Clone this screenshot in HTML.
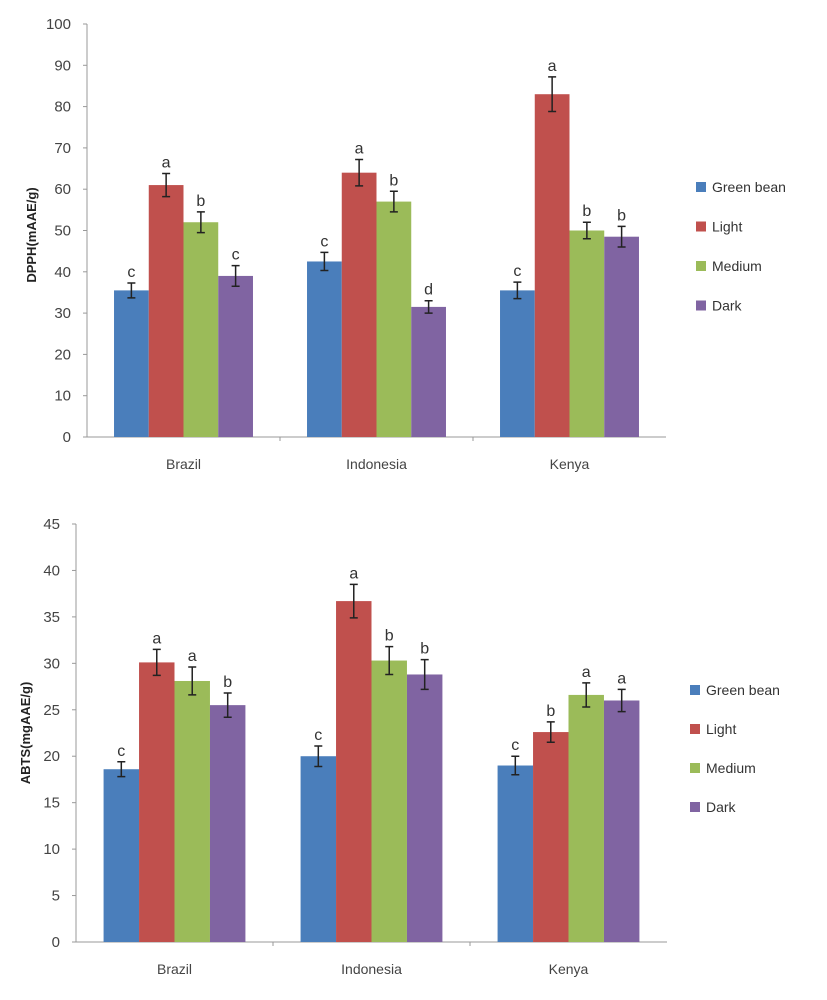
<!DOCTYPE html>
<html><head><meta charset="utf-8"><style>
body{margin:0;background:#fff;}
svg{display:block;font-family:"Liberation Sans",sans-serif;}
</style></head><body>
<svg width="827" height="1000" id="fig"></svg>
<script>
const categories=["Brazil","Indonesia","Kenya"];
const seriesNames=["Green bean","Light","Medium","Dark"];
const colors=["#4a7ebb","#c0504d","#9bbb59","#8064a2"];
const dpphValues=[[35.5,42.5,35.5],[61,64,83],[52,57,50],[39,31.5,48.5]];
const dpphErrors=[[1.8,2.2,2],[2.8,3.2,4.2],[2.5,2.5,2],[2.5,1.5,2.5]];
const dpphLetters=[["c","c","c"],["a","a","a"],["b","b","b"],["c","d","b"]];
const dpphTicks=[0,10,20,30,40,50,60,70,80,90,100];
const abtsValues=[[18.6,20,19],[30.1,36.7,22.6],[28.1,30.3,26.6],[25.5,28.8,26]];
const abtsErrors=[[0.8,1.1,1],[1.4,1.8,1.1],[1.5,1.5,1.3],[1.3,1.6,1.2]];
const abtsLetters=[["c","c","c"],["a","a","b"],["a","b","a"],["b","b","a"]];
const abtsTicks=[0,5,10,15,20,25,30,35,40,45];
const NS="http://www.w3.org/2000/svg";
const svg=document.getElementById('fig');
function mk(tag,attrs,parent,text){const e=document.createElementNS(NS,tag);for(const k in attrs)e.setAttribute(k,attrs[k]);if(text!==undefined)e.textContent=text;parent.appendChild(e);return e;}
function chart(o){
  const g=mk('g',{},svg);
  
  
  const y=v=>o.y0-(v/o.max)*(o.y0-o.yTop);
  const catW=o.catW, barW=catW*0.18;
  const ax=mk('line',{x1:o.x0,y1:o.yTop,x2:o.x0,y2:o.y0,stroke:'#999','stroke-width':1},g);
  
  const xa=mk('line',{x1:o.x0,y1:o.y0,x2:o.x0+catW*3,y2:o.y0,stroke:'#999','stroke-width':1},g);
  
  o.ticks.forEach(t=>{
    mk('line',{x1:o.x0-4,y1:y(t),x2:o.x0,y2:y(t),stroke:'#999'},g);
    const tl=mk('text',{x:o.x0-16,y:y(t)+5,'text-anchor':'end','font-size':15,fill:'#444'},g,String(t));
    
  });
  for(let i=1;i<3;i++)mk('line',{x1:o.x0+catW*i,y1:o.y0,x2:o.x0+catW*i,y2:o.y0+4,stroke:'#999'},g);
  categories.forEach((c,ci)=>{
    const cx=o.x0+catW*(ci+0.5);
    const cl=mk('text',{x:cx,y:o.y0+32,'text-anchor':'middle','font-size':14,fill:'#444'},g,c);
    
    for(let s=0;s<4;s++){
      const v=o.vals[s][ci],e=o.errs[s][ci];
      const bx=cx-2*barW+s*barW;
      const r=mk('rect',{x:bx,y:y(v),width:barW,height:o.y0-y(v),fill:colors[s]},g);
      
      
      const mx=bx+barW/2;
      mk('path',{d:`M${mx},${y(v+e)}V${y(v-e)}M${mx-4},${y(v+e)}H${mx+4}M${mx-4},${y(v-e)}H${mx+4}`,stroke:'#222','stroke-width':1.5,fill:'none'},g);
      const lt=mk('text',{x:mx,y:y(v+e)-6,'text-anchor':'middle','font-size':16,fill:'#333'},g,o.letters[s][ci]);
      
    }
  });
  const yt=mk('text',{x:0,y:0,transform:`translate(${o.titleX},${o.titleY}) rotate(-90)`,'text-anchor':'middle','font-size':13,'font-weight':'bold',fill:'#222'},g,o.title);
  
  seriesNames.forEach((n,s)=>{
    const ly=o.legY+s*o.legGap;
    const lr=mk('rect',{x:o.legX,y:ly-5,width:10,height:10,fill:colors[s]},g);
    
    const lt=mk('text',{x:o.legX+16,y:ly+5,'font-size':14,fill:'#333'},g,n);
    
  });
}
chart({name:'dpph-chart',x0:87,y0:437,yTop:24,max:100,catW:193,ticks:dpphTicks,vals:dpphValues,errs:dpphErrors,letters:dpphLetters,title:'DPPH(mAAE/g)',titleX:36,titleY:235,legX:696,legY:187,legGap:39.5});
chart({name:'abts-chart',x0:76,y0:942,yTop:524,max:45,catW:197,ticks:abtsTicks,vals:abtsValues,errs:abtsErrors,letters:abtsLetters,title:'ABTS(mgAAE/g)',titleX:30,titleY:733,legX:690,legY:690,legGap:39});
</script>
</body></html>
